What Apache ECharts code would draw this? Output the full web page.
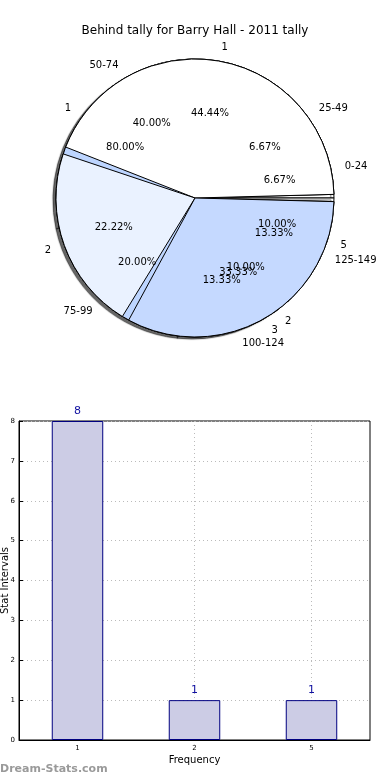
<!DOCTYPE html>
<html>
<head>
<meta charset="utf-8">
<script src="https://cdn.jsdelivr.net/npm/echarts@6/dist/echarts.min.js"></script>
<style>html,body{margin:0;padding:0;background:#fff}#c{width:390px;height:780px}</style>
</head>
<body>
<div id="c"></div>
<script>
// ---- data ----
const titleText = 'Behind tally for Barry Hall - 2011 tally';
const groupLabels = ['1', '2', '3'];
const groupCounts = [4, 2, 3];
const freqLabels = ['1', '2', '5'];
const freqCounts = [8, 1, 1];
const rangeLabels = ['0-24', '25-49', '50-74', '75-99', '100-124', '125-149'];
const rangeCounts = [1, 1, 6, 3, 2, 2];
const barCategories = ['1', '2', '5'];
const barValues = [8, 1, 1];
const yAxisName = 'Stat Intervals';
const xAxisName = 'Frequency';
const watermark = 'Dream-Stats.com';

// ---- styles ----
const FONT = 'DejaVu Sans';
const CX = 195, CY = 198, R = 139;
const groupColors = ['#ffffff', '#eaf2ff', '#c5d9ff'];
const freqColors = ['#bdd5ff', '#bdd5ff', '#ffffff'];
const rangeColors = ['#ffffff', '#ffffff', '#ffffff', '#ffffff', '#ffffff', '#ffffff'];

function sum(a) { return a.reduce((s, v) => s + v, 0); }
function pieData(labels, counts, colors) {
  return labels.map((n, i) => ({ name: n, value: counts[i], itemStyle: colors ? { color: colors[i] } : undefined }));
}
function pctFormatter(counts) {
  const t = sum(counts);
  return p => (counts[p.dataIndex] / t * 100).toFixed(2) + '%';
}
const nameLabel = {
  show: true, position: 'outside', formatter: '{b}', color: '#000',
  fontFamily: FONT, fontSize: 10, distanceToLabelLine: 0
};
const nameLine = { show: false, length: Math.round(R * 0.1), length2: 0 };

function drawnPie(labels, counts, colors, pad, z, extraItem) {
  return {
    type: 'pie', center: [CX, CY], radius: [0, R], startAngle: 0, clockwise: false,
    padAngle: pad, avoidLabelOverlap: false, silent: true, z: z,
    data: pieData(labels, counts, colors),
    itemStyle: Object.assign({ borderColor: '#000', borderWidth: 1 }, extraItem || {}),
    label: nameLabel, labelLine: nameLine,
    labelLayout: { hideOverlap: false },
    emphasis: { disabled: true }
  };
}
function pctPie(labels, counts, z) {
  return {
    type: 'pie', center: [CX, CY], radius: [R * 0.2, R], startAngle: 0, clockwise: false,
    avoidLabelOverlap: false, silent: true, z: z,
    data: pieData(labels, counts, null),
    itemStyle: { color: 'rgba(0,0,0,0)', borderWidth: 0 },
    label: { show: true, position: 'inside', formatter: pctFormatter(counts), color: '#000', fontFamily: FONT, fontSize: 10 },
    labelLine: { show: false },
    labelLayout: { hideOverlap: false },
    emphasis: { disabled: true }
  };
}

// helper axis used only for vertical grid lines through category centres
const gridHelperCats = [];
for (let i = 0; i <= barCategories.length * 2; i++) gridHelperCats.push('g' + i);

const chart = echarts.init(document.getElementById('c'), null, { renderer: 'canvas' });
chart.setOption({
  animation: false,
  backgroundColor: '#fff',
  title: {
    text: titleText, left: 'center', top: 20,
    textStyle: { fontFamily: FONT, fontSize: 12, fontWeight: 'normal', color: '#000' }
  },
  graphic: [{
    type: 'text', left: 0, top: 764,
    style: { text: watermark, fill: '#9a9a9a', font: 'bold 11px "DejaVu Sans"' }
  }],
  grid: {
    left: 19, right: 20, top: 421, bottom: 40,
    containLabel: false, outerBoundsMode: 'none',
    show: true, borderColor: '#000', borderWidth: 1, backgroundColor: 'transparent'
  },
  xAxis: [{
    type: 'category', data: barCategories,
    name: xAxisName, nameLocation: 'middle', nameGap: 15, nameMoveOverlap: false,
    nameTextStyle: { fontFamily: FONT, fontSize: 10, color: '#000' },
    axisLine: { lineStyle: { color: '#000', width: 1 } },
    axisTick: { show: true, inside: true, alignWithLabel: true, length: 4, lineStyle: { color: '#000' } },
    axisLabel: { fontFamily: FONT, fontSize: 7, color: '#000', margin: 5 },
    splitLine: { show: false }
  }, {
    type: 'category', data: gridHelperCats, boundaryGap: false, position: 'bottom',
    axisLine: { show: false }, axisTick: { show: false }, axisLabel: { show: false },
    splitLine: { show: true, interval: (i) => i % 2 === 1, lineStyle: { color: '#bbb', type: [1, 3], width: 1 } }
  }],
  yAxis: {
    type: 'value', min: 0, max: 8, interval: 1,
    name: yAxisName, nameLocation: 'middle', nameGap: 9, nameRotate: 90, nameMoveOverlap: false,
    nameTextStyle: { fontFamily: FONT, fontSize: 10, color: '#000' },
    axisLine: { show: true, lineStyle: { color: '#000', width: 1 } },
    axisTick: { show: true, inside: true, length: 4, lineStyle: { color: '#000' } },
    axisLabel: { fontFamily: FONT, fontSize: 7, color: '#000', margin: 4 },
    splitLine: { show: true, lineStyle: { color: '#bbb', type: [1, 3], width: 1 } }
  },
  series: [
    drawnPie(rangeLabels, rangeCounts, rangeColors, 0, 1,
      { shadowColor: 'rgba(0,0,0,0.6)', shadowBlur: 1, shadowOffsetX: -3, shadowOffsetY: 2 }),
    drawnPie(freqLabels, freqCounts, freqColors, 3, 2),
    drawnPie(groupLabels, groupCounts, groupColors, 3, 3),
    pctPie(rangeLabels, rangeCounts, 4),
    pctPie(freqLabels, freqCounts, 5),
    pctPie(groupLabels, groupCounts, 6),
    {
      type: 'bar', data: barValues, barWidth: '44%', z: 2, xAxisIndex: 0,
      itemStyle: { color: '#ccccE5', borderColor: '#000080', borderWidth: 1 },
      label: { show: true, position: 'top', color: '#1010a0', fontFamily: FONT, fontSize: 11, distance: 4 },
      emphasis: { disabled: true }
    }
  ]
});
</script>
</body>
</html>
